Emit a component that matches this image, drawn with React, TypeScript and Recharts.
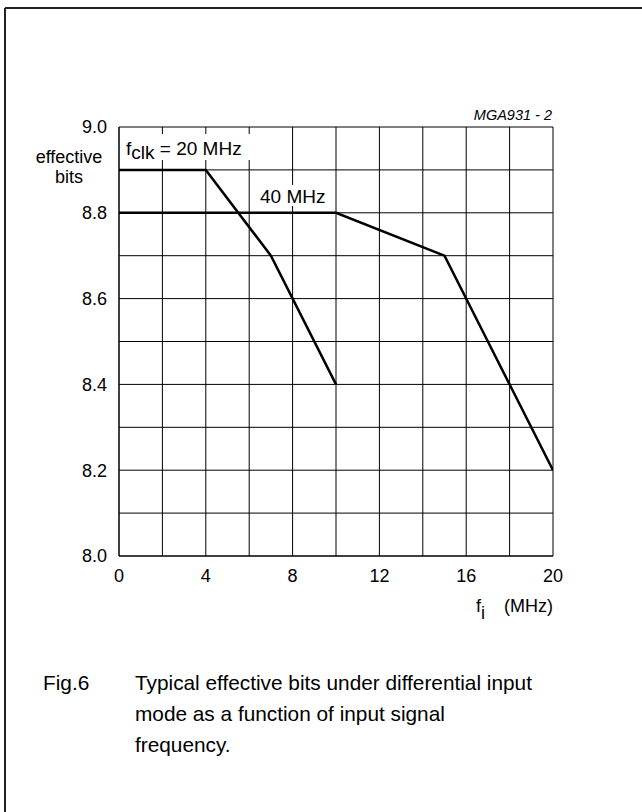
import { CartesianGrid, Line, LineChart, XAxis, YAxis } from "recharts";

// f_clk = 20 MHz
const clk20Freq = [0, 4, 7, 10];
const clk20Bits = [8.9, 8.9, 8.7, 8.4];
// f_clk = 40 MHz
const clk40Freq = [0, 10, 15, 20];
const clk40Bits = [8.8, 8.8, 8.7, 8.2];

const xTicks = [0, 4, 8, 12, 16, 20];
const yTicks = [8.0, 8.2, 8.4, 8.6, 8.8, 9.0];
const xGrid = [0, 2, 4, 6, 8, 10, 12, 14, 16, 18, 20];
const yGrid = [8.0, 8.1, 8.2, 8.3, 8.4, 8.5, 8.6, 8.7, 8.8, 8.9, 9.0];

const clk20 = clk20Freq.map((f, i) => ({ f, bits: clk20Bits[i] }));
const clk40 = clk40Freq.map((f, i) => ({ f, bits: clk40Bits[i] }));

const FONT = "'Liberation Sans', Arial, Helvetica, sans-serif";
const W = 642;
const H = 812;
const Y_AXIS_W = 60;
const X_AXIS_H = 40;

export default function App() {
  return (
    <div
      style={{
        position: "absolute",
        left: 0,
        top: 0,
        width: W,
        height: H,
        background: "#fff",
        fontFamily: FONT,
      }}
    >
      <LineChart
        width={W}
        height={H}
        margin={{
          top: 127,
          left: 119 - Y_AXIS_W,
          right: W - 553,
          bottom: H - 556 - X_AXIS_H,
        }}
      >
        <CartesianGrid
          stroke="#000"
          strokeWidth={1}
          horizontalValues={yGrid}
          verticalValues={xGrid}
        />
        <XAxis
          dataKey="f"
          type="number"
          domain={[0, 20]}
          ticks={xTicks}
          height={X_AXIS_H}
          tickSize={0}
          tickMargin={13}
          tickLine={false}
          axisLine={{ stroke: "#000" }}
          tick={{ fill: "#000", fontSize: 18, fontFamily: FONT }}
          interval={0}
          allowDataOverflow
        />
        <YAxis
          type="number"
          domain={[8.0, 9.0]}
          ticks={yTicks}
          width={Y_AXIS_W}
          tickSize={0}
          tickMargin={12}
          tickLine={false}
          axisLine={{ stroke: "#000" }}
          tickFormatter={(v: number) => v.toFixed(1)}
          tick={{ fill: "#000", fontSize: 18, fontFamily: FONT }}
          interval={0}
          allowDataOverflow
        />
        <Line
          data={clk20}
          dataKey="bits"
          stroke="#000"
          strokeWidth={2.5}
          dot={false}
          isAnimationActive={false}
        />
        <Line
          data={clk40}
          dataKey="bits"
          stroke="#000"
          strokeWidth={2.5}
          dot={false}
          isAnimationActive={false}
        />
      </LineChart>

      <svg
        width={W}
        height={H}
        style={{ position: "absolute", left: 0, top: 0, pointerEvents: "none" }}
        fontFamily={FONT}
      >
        <line x1={5} y1={8} x2={W} y2={8} stroke="#222" strokeWidth={2} />
        <line x1={5} y1={8} x2={5} y2={H} stroke="#222" strokeWidth={2} />

        <text x={552} y={120} fontSize={14.5} fontStyle="italic" textAnchor="end" fill="#000">
          MGA931 - 2
        </text>

        <text x={69} y={163} fontSize={18} textAnchor="middle" fill="#000">
          effective
        </text>
        <text x={69} y={183} fontSize={18} textAnchor="middle" fill="#000">
          bits
        </text>

        <rect x={122} y={134} width={130} height={26} fill="#fff" />
        <text x={126} y={155} fontSize={19} fill="#000">
          f
          <tspan dy={4}>clk</tspan>
          <tspan dy={-4}> = 20 MHz</tspan>
        </text>

        <rect x={257} y={185} width={72} height={21} fill="#fff" />
        <text x={260} y={203} fontSize={19} fill="#000">
          40 MHz
        </text>

        <text x={476} y={612} fontSize={18} fill="#000">
          f
          <tspan dy={7}>i</tspan>
        </text>
        <text x={553} y={612} fontSize={18} textAnchor="end" fill="#000">
          (MHz)
        </text>

        <text x={43} y={690} fontSize={20.8} fill="#000">
          Fig.6
        </text>
        <text fontSize={20.8} fill="#000">
          <tspan x={135} y={690}>Typical effective bits under differential input</tspan>
          <tspan x={135} y={721}>mode as a function of input signal</tspan>
          <tspan x={135} y={752}>frequency.</tspan>
        </text>
      </svg>
    </div>
  );
}
